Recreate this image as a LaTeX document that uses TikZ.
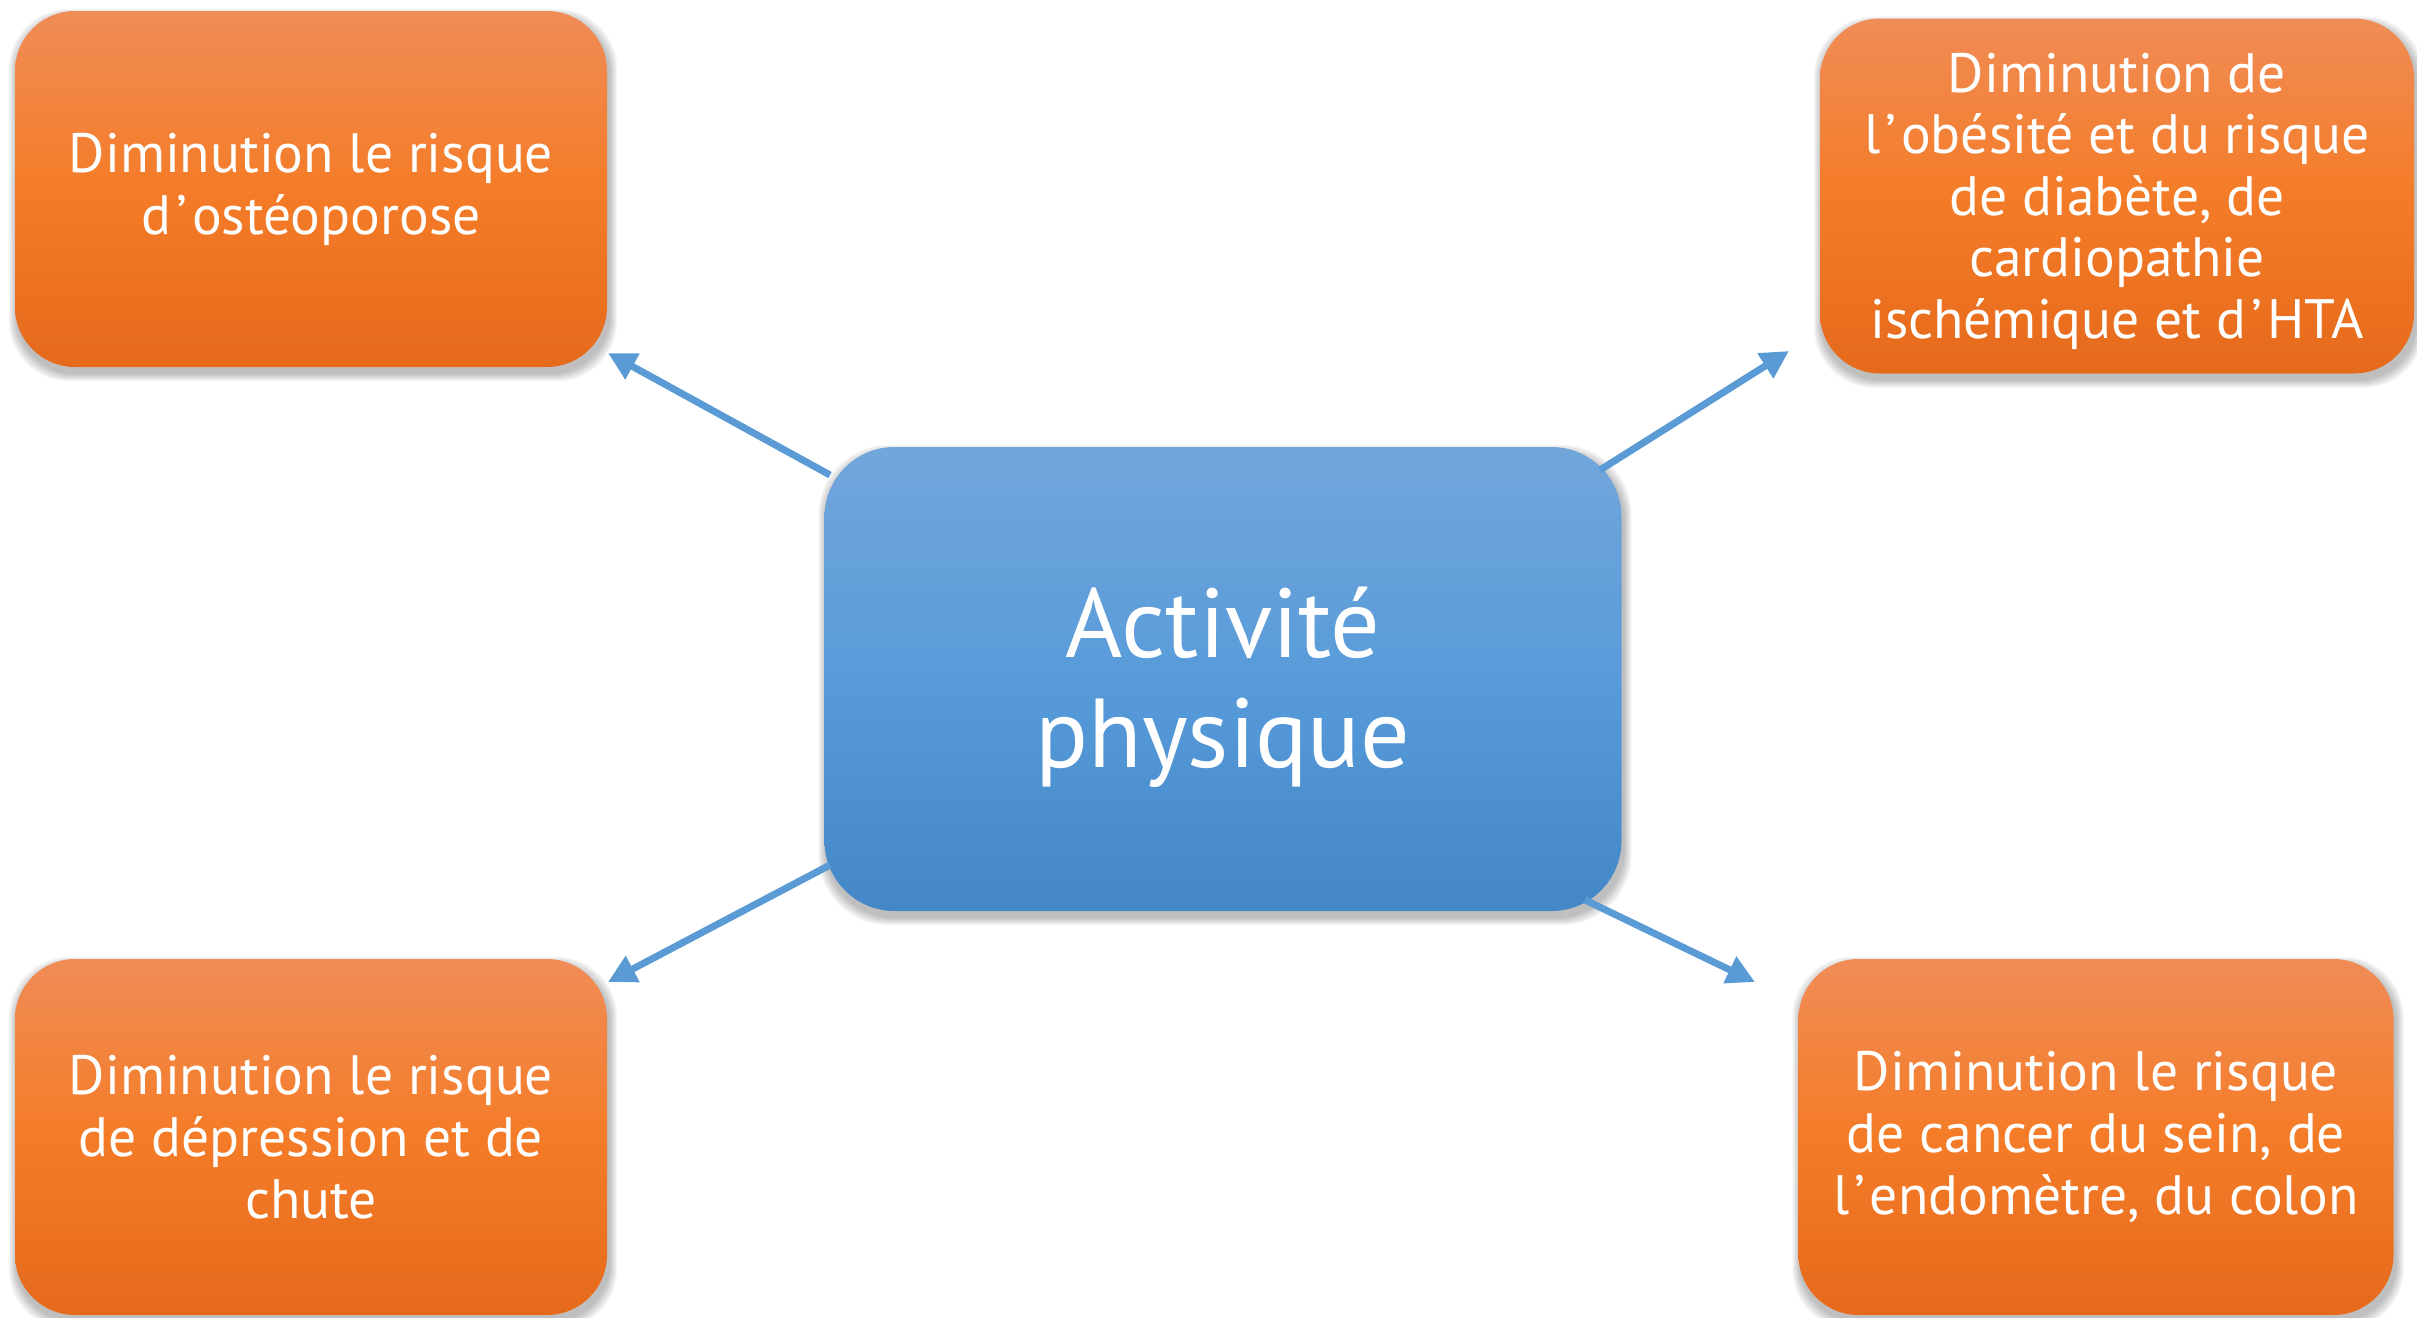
\documentclass[tikz,border=0pt]{standalone}
\usepackage{fontspec}
\setmainfont{PT Sans}
\usetikzlibrary{arrows.meta,backgrounds}
\definecolor{otop}{RGB}{240,140,86}
\definecolor{omid}{RGB}{244,124,40}
\definecolor{obot}{RGB}{229,106,28}
\definecolor{btop}{RGB}{114,166,219}
\definecolor{bmid}{RGB}{88,155,218}
\definecolor{bbot}{RGB}{67,135,199}
\definecolor{arrowblue}{RGB}{91,155,213}
\newcommand\apo{\kern5pt’\kern5pt}
\begin{document}
\begin{tikzpicture}[x=1pt,y=-1pt,
  obox/.style={rectangle, rounded corners=60pt, top color=otop, bottom color=obot, middle color=omid,
    minimum width=592pt, minimum height=356pt, inner sep=0pt, align=center, text=white,
    font=\fontsize{55.5}{62}\selectfont},
  cbox/.style={rectangle, rounded corners=70pt, top color=btop, bottom color=bbot, middle color=bmid,
    minimum width=797pt, minimum height=464pt, inner sep=0pt},
  ctext/.style={inner sep=0pt, align=center, text=white, font=\fontsize{98}{110}\selectfont},
  otext/.style={inner sep=0pt, align=center, text=white, font=\fontsize{55.5}{61.5}\selectfont},
  link/.style={draw=arrowblue, line width=7pt, -{Triangle[length=28pt,width=28pt]}}]
\useasboundingbox (0,0) rectangle (2417,1317);

\node[obox] (tl) at (311,189) {Diminution le risque\\d\apo ostéoporose};
\node[obox, minimum width=594pt, minimum height=355pt] (tr) at (2117,196) {};
\node[otext] (trt) at ([yshift=-5pt]tr.center) {Diminution de\\l\apo obésité et du risque\\de diabète, de\\cardiopathie\\ischémique et d\apo HTA};
\node[obox] (bl) at (311,1137) {Diminution le risque\\de dépression et de\\chute};
\node[obox, minimum width=595pt] (br) at (2096,1137) {Diminution le risque\\de cancer du sein, de\\l\apo endomètre, du colon};
\node[cbox] (c) at (1223,679) {};
\node[ctext] (ct) at ([yshift=-8pt]c.center) {Activité\\physique};

\begin{scope}[on background layer]
\foreach \n/\r in {tl/60,tr/60,bl/60,br/60,c/70}{
  \foreach \i in {1,...,8}{
    \fill[black, opacity=0.035, rounded corners=\r pt]
      ([xshift={(2-\i)*1pt}, yshift={(\i-6)*1pt}]\n.north west) rectangle
      ([xshift={(2+\i)*1pt}, yshift={(-\i-6)*1pt}]\n.south east);
  }
}
\end{scope}

\coordinate (s1) at (830,475);  \coordinate (e1) at (608,353);
\coordinate (s2) at (1600,470); \coordinate (e2) at (1789,351);
\coordinate (s3) at (830,865);  \coordinate (e3) at (608,982);
\coordinate (s4) at (1585,900); \coordinate (e4) at (1755,982);
\draw[link] (s1) -- (e1);
\draw[link] (s2) -- (e2);
\draw[link] (s3) -- (e3);
\draw[link] (s4) -- (e4);
\end{tikzpicture}
\end{document}
